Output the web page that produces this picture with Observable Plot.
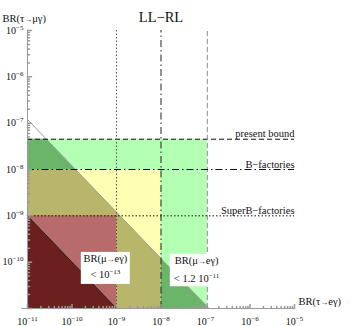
<!DOCTYPE html>
<html><head><meta charset="utf-8">
<script src="https://cdn.jsdelivr.net/npm/d3@7"></script>
<script src="https://cdn.jsdelivr.net/npm/@observablehq/plot@0.6"></script>
<style>body{margin:0;background:#fff} #chart svg{display:block}</style>
</head><body><div id="chart"></div>
<script>
const title = "LL\u2212RL";
const xLabel = "BR(\u03c4\u2192e\u03b3)";
const yLabel = "BR(\u03c4\u2192\u03bc\u03b3)";
const decades = [-11, -10, -9, -8, -7, -6, -5];
const tickLabels = ["10^\u221211", "10^\u221210", "10^\u22129", "10^\u22128", "10^\u22127", "10^\u22126", "10^\u22125"];
// experimental sensitivities (present bound, B-factories, SuperB-factories)
const boundNames = ["present bound", "B\u2212factories", "SuperB\u2212factories"];
const tauMuBounds = [4.5e-8, 1e-8, 1e-9];
const tauEBounds = [1.1e-7, 1e-8, 1e-9];
const boundDash = ["5,3", "7,3,1.5,3", "1.5,2"];
const vertColors = ["#8a8a8a", "#222222", "#555555"];
const lightColors = ["#b3ffb3", "#ffffb3", "#ffb3b3"];
const darkColors = ["#6bb56b", "#b8b66b", "#b86b6b"];
// BR(mu->e gamma) constraints: BR(tau->e g) * BR(tau->mu g) < coef * BR(mu->e g)
const muEBounds = [1.2e-11, 1e-13];
const muELabels = ["< 1.2 10^\u221211", "< 10^\u221213"];
const muEName = "BR(\u03bc\u2192e\u03b3)";
const coef = 1e-7;
const diagColors = ["#9a9a9a", "#222222"];
const darkRed = "#6b1f1f";
// label box placement (log10 of data coordinates)
const boxCenterX = [-7.2, -9.25];
const boxX1 = [-7.79, -9.79], boxX2 = [-6.60, -8.69];
const boxY1 = [-10.53, -10.48], boxY2 = [-9.83, -9.79];
const boxLine1Y = [-9.975, -9.92], boxLine2Y = [-10.36, -10.27];

const X0 = 1e-11, X1 = 1e-5, Y0 = 1e-11, Y1 = 1e-5;
const serif = "'Liberation Serif','Times New Roman',serif";

function underArea(x0, x1, y0, y1, k) {
  const xe = Math.min(x1, k / y0);
  const xs = [x0, xe];
  const kink = k / y1;
  if (kink > x0 && kink < xe) xs.push(kink);
  xs.sort((a, b) => a - b);
  return xs.map(x => ({x, y1: y0, y2: Math.max(y0, Math.min(y1, k / x))}));
}

const marks = [];
for (let i = 0; i < 3; i++) {
  marks.push(Plot.rect([0], {x1: X0, x2: tauEBounds[i], y1: Y0, y2: tauMuBounds[i], fill: lightColors[i]}));
  marks.push(Plot.areaY(underArea(X0, tauEBounds[i], Y0, tauMuBounds[i], coef * muEBounds[0]),
    {x: "x", y1: "y1", y2: "y2", fill: darkColors[i], curve: "linear"}));
}
marks.push(Plot.areaY(underArea(X0, tauEBounds[2], Y0, tauMuBounds[2], coef * muEBounds[1]),
  {x: "x", y1: "y1", y2: "y2", fill: darkRed, curve: "linear"}));
// diagonals
muEBounds.forEach((b, i) => {
  const k = coef * b;
  marks.push(Plot.line([{x: X0, y: k / X0}, {x: k / Y0, y: Y0}], {x: "x", y: "y", stroke: diagColors[i], strokeWidth: 1}));
});
// bound lines
for (let i = 0; i < 3; i++) {
  marks.push(Plot.ruleY([tauMuBounds[i]], {x1: X0, x2: X1, stroke: "#111", strokeWidth: 1, strokeDasharray: boundDash[i]}));
  marks.push(Plot.ruleX([tauEBounds[i]], {y1: Y0, y2: Y1, stroke: vertColors[i], strokeWidth: 1, strokeDasharray: boundDash[i]}));
  marks.push(Plot.text([boundNames[i]], {x: X1, y: tauMuBounds[i], text: d => d, textAnchor: "end", lineAnchor: "bottom", dy: -2, fontSize: 10.5, fontFamily: serif, fill: "#111"}));
}
// label boxes
for (let i = 0; i < 2; i++) {
  marks.push(Plot.rect([0], {x1: 10 ** boxX1[i], x2: 10 ** boxX2[i], y1: 10 ** boxY1[i], y2: 10 ** boxY2[i], fill: "white"}));
  marks.push(Plot.text([muEName], {x: 10 ** boxCenterX[i], y: 10 ** boxLine1Y[i], text: d => d, fontSize: 10.5, fontFamily: serif, fill: "#111"}));
  marks.push(Plot.text([muELabels[i]], {x: 10 ** boxCenterX[i], y: 10 ** boxLine2Y[i], text: d => d, fontSize: 10.5, fontFamily: serif, fill: "#111"}));
}
// axes
const minor = [];
decades.slice(0, -1).forEach(d => { for (let m = 2; m <= 9; m++) minor.push(m * 10 ** d); });
const tickShape = {draw(ctx, l) { ctx.moveTo(0, 0); ctx.lineTo(0, -l); }};
const axisColor = "#9a9a9a";
marks.push(Plot.ruleY([Y0], {x1: 10 ** -11.13, x2: X1, stroke: axisColor}));
marks.push(Plot.ruleX([X0], {y1: Y0, y2: Y1, stroke: axisColor}));
marks.push(Plot.vector(decades, {x: d => 10 ** d, y: Y0, length: 4, rotate: 0, anchor: "start", shape: tickShape, stroke: axisColor}));
marks.push(Plot.vector(minor, {x: d => d, y: Y0, length: 2, rotate: 0, anchor: "start", shape: tickShape, stroke: axisColor}));
marks.push(Plot.vector(decades, {x: X0, y: d => 10 ** d, length: 4, rotate: 90, anchor: "start", shape: tickShape, stroke: axisColor}));
marks.push(Plot.vector(minor, {x: X0, y: d => d, length: 2, rotate: 90, anchor: "start", shape: tickShape, stroke: axisColor}));
marks.push(Plot.text(decades, {x: d => 10 ** d, y: Y0, text: (d, i) => tickLabels[i], dy: 13, fontSize: 10, fontFamily: serif, fill: "#111"}));
marks.push(Plot.text(decades.slice(1), {x: X0, y: d => 10 ** d, text: (d, i) => tickLabels[i + 1], textAnchor: "end", dx: -4, fontSize: 10, fontFamily: serif, fill: "#111"}));
marks.push(Plot.text([title], {frameAnchor: "top", dy: -19, text: d => d, fontSize: 14.5, fontFamily: serif, fill: "#111"}));
marks.push(Plot.text([yLabel], {frameAnchor: "top-left", dx: -25, dy: -16, textAnchor: "start", text: d => d, fontSize: 10.5, fontFamily: serif, fill: "#111"}));
marks.push(Plot.text([xLabel], {frameAnchor: "bottom-right", dx: 4, dy: -4, textAnchor: "start", text: d => d, fontSize: 10.5, fontFamily: serif, fill: "#111"}));

const svg = Plot.plot({
  width: 354, height: 326,
  marginLeft: 27, marginRight: 60, marginTop: 30, marginBottom: 18,
  x: {type: "log", domain: [X0, X1], axis: null},
  y: {type: "log", domain: [Y0, Y1], axis: null},
  style: {background: "white", fontFamily: serif},
  marks
});
// rich text: superscripts after "^", compact arrows
const ns = "http://www.w3.org/2000/svg";
svg.querySelectorAll("text").forEach(t => {
  const s = t.textContent;
  if (!/[\^\u2192]/.test(s)) return;
  const m = s.match(/^(.*?)\^(.+)$/);
  const base = m ? m[1] : s, sup = m ? m[2] : null;
  t.textContent = "";
  base.split(/(\u2192)/).forEach(part => {
    if (!part) return;
    const sp = document.createElementNS(ns, "tspan");
    sp.textContent = part;
    if (part === "\u2192") sp.setAttribute("font-size", "8");
    t.appendChild(sp);
  });
  if (sup) {
    const b = document.createElementNS(ns, "tspan"); b.textContent = sup;
    b.setAttribute("dy", "-4"); b.setAttribute("font-size", "7");
    t.appendChild(b);
  }
});
document.getElementById("chart").appendChild(svg);
</script>
</body></html>
